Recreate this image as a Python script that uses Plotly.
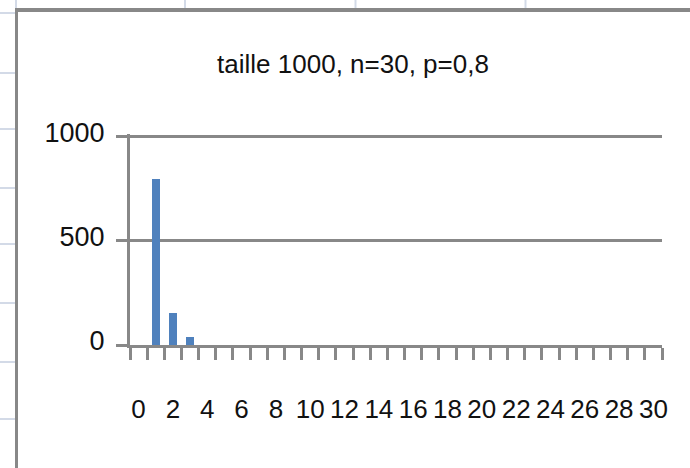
import plotly.graph_objects as go

# Simulated counts per value (sample size 1000, n=30, p=0,8)
categories = list(range(0, 31))
counts = [0, 793, 154, 36] + [0] * 27
x_tick_values = list(range(0, 31, 2))
x_tick_labels = [str(v) for v in x_tick_values]
y_tick_values = [0, 500, 1000]
y_range_top = 1010
title_text = "taille 1000, n=30, p=0,8"

W, H = 690, 468
ML, MR, MT, MB = 130, 28, 134, 123
PW, PH = W - ML - MR, H - MT - MB

AXIS_GREY = "#888888"
SHEET_GRID = "#d3dae7"
BAR_BLUE = "#4F81BD"
TEXT = "#111111"
FONT = "Liberation Sans, Arial, sans-serif"


def px_x(px):
    return (px - ML) / PW


def px_y(py):
    return (H - MB - py) / PH


fig = go.Figure(
    go.Bar(
        x=categories,
        y=counts,
        width=0.47,
        marker=dict(color=BAR_BLUE, line=dict(width=0)),
        hoverinfo="x+y",
    )
)

shapes = []
# spreadsheet cell lines around the embedded chart
for py in [13, 73, 129, 188, 244, 303, 362, 419]:
    shapes.append(dict(type="line", xref="paper", yref="paper",
                       x0=px_x(0), x1=px_x(15), y0=px_y(py), y1=px_y(py),
                       line=dict(color=SHEET_GRID, width=2), layer="below"))
for px in [16, 185, 355.5, 525.5]:
    shapes.append(dict(type="line", xref="paper", yref="paper",
                       x0=px_x(px), x1=px_x(px), y0=px_y(0), y1=px_y(9),
                       line=dict(color=SHEET_GRID, width=2), layer="below"))
# chart area border (top and left edges)
shapes.append(dict(type="line", xref="paper", yref="paper",
                   x0=px_x(15), x1=px_x(W + 5), y0=px_y(10), y1=px_y(10),
                   line=dict(color=AXIS_GREY, width=4), layer="above"))
shapes.append(dict(type="line", xref="paper", yref="paper",
                   x0=px_x(16.5), x1=px_x(16.5), y0=px_y(8), y1=px_y(H + 5),
                   line=dict(color=AXIS_GREY, width=3), layer="above"))

boundaries = [c - 0.5 for c in categories] + [categories[-1] + 0.5]

fig.update_layout(
    width=W,
    height=H,
    margin=dict(l=ML, r=MR, t=MT, b=MB, pad=0),
    paper_bgcolor="#ffffff",
    plot_bgcolor="#ffffff",
    showlegend=False,
    bargap=0,
    font=dict(family=FONT, size=26, color=TEXT),
    title=dict(
        text=title_text,
        x=353 / W,
        xanchor="center",
        y=1 - 64 / H,
        yanchor="middle",
        font=dict(family=FONT, size=26, color=TEXT),
    ),
    shapes=shapes,
    xaxis=dict(
        range=[-0.5, 30.5],
        tickmode="array",
        tickvals=x_tick_values,
        ticktext=x_tick_labels,
        tickangle=0,
        ticks="",
        showgrid=False,
        zeroline=False,
        showline=True,
        linecolor=AXIS_GREY,
        linewidth=3,
        ticklabelstandoff=39,
        tickfont=dict(family=FONT, size=26, color=TEXT),
        minor=dict(
            tickmode="array",
            tickvals=boundaries,
            ticks="outside",
            ticklen=12,
            tickwidth=3,
            tickcolor=AXIS_GREY,
            showgrid=False,
        ),
        fixedrange=True,
    ),
    yaxis=dict(
        range=[0, y_range_top],
        tickmode="array",
        tickvals=y_tick_values,
        ticks="outside",
        ticklen=11,
        tickwidth=3,
        tickcolor=AXIS_GREY,
        showgrid=True,
        gridcolor=AXIS_GREY,
        gridwidth=3,
        zeroline=False,
        showline=True,
        linecolor=AXIS_GREY,
        linewidth=3,
        ticklabelstandoff=6,
        ticklabelshift=-4,
        tickfont=dict(family=FONT, size=27, color=TEXT),
        fixedrange=True,
    ),
)

fig.write_html("out.html", config={"displayModeBar": False})
